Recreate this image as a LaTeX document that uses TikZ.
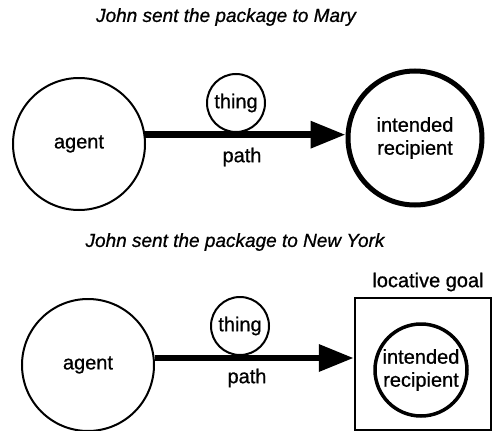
\documentclass[tikz,border=0pt]{standalone}
\usepackage{fontspec}
\setmainfont{Liberation Sans}[FakeBold=0.8]
\usetikzlibrary{arrows.meta}
\tikzset{
  role/.style={circle, draw, line width=2pt, inner sep=0pt, align=center,
    font=\fontsize{20}{23}\selectfont},
  lbl/.style={inner sep=0pt, font=\fontsize{20}{23}\selectfont},
  ttl/.style={inner sep=0pt, font=\fontsize{19}{22}\selectfont\itshape},
  pathline/.style={line width=6.5pt, -{Triangle[length=35pt,width=26pt]}},
}
\begin{document}
\begin{tikzpicture}[x=1pt,y=-1pt]
\useasboundingbox (0,0) rectangle (493,431);
% top panel
\node[ttl] (t1) at (226,17) {John sent the package to Mary};
\node[role, minimum size=132pt] (agent1) at (79,144) {agent};
\node[role, minimum size=134pt, line width=5pt] (recip1) at (415,138) {intended\\recipient};
\node[role, minimum size=58pt] (thing1) at (236,103) {thing};
\node[lbl] (path1) at (242,157) {path};
\draw[pathline] (agent1.8) -- (agent1.8 -| recip1.west);
% bottom panel
\node[ttl] (t2) at (235,242) {John sent the package to New York};
\node[lbl] (loc) at (428,282) {locative goal};
\node[draw, line width=2.5pt, minimum width=136pt, minimum height=132pt, inner sep=0pt] (goal) at (423,364) {};
\node[role, minimum size=92pt, line width=3.5pt] (recip2) at (421,370) {intended\\recipient};
\node[role, minimum size=132pt] (agent2) at (88,365) {agent};
\node[role, minimum size=58pt] (thing2) at (240,326) {thing};
\node[lbl] (path2) at (247,378) {path};
\draw[pathline] (agent2.6) -- (agent2.6 -| goal.west);
\end{tikzpicture}
\end{document}
